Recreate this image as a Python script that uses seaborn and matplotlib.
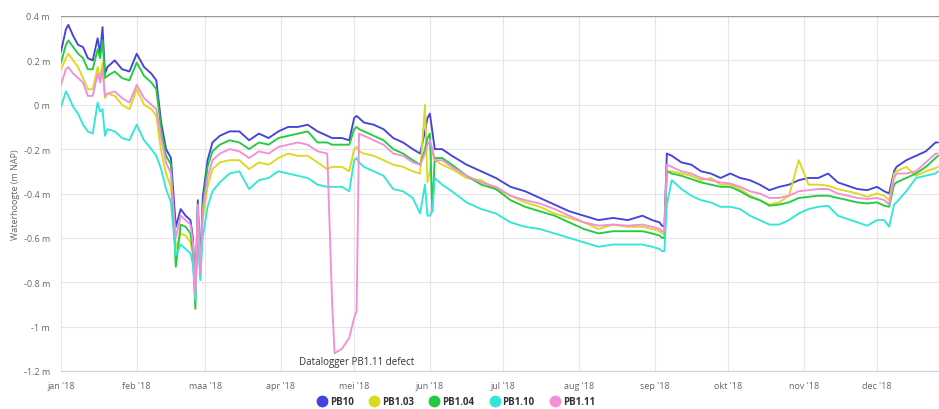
import pandas as pd
import matplotlib
matplotlib.use("Agg")
import matplotlib.pyplot as plt
from matplotlib.lines import Line2D
import seaborn as sns

# day offsets from 1 jan 2018
days = [0, 2, 3, 5, 7, 9, 11, 13, 15, 16, 17, 18, 19, 22, 25, 28, 31, 34, 37, 39,
        41, 43, 45, 47, 49, 51, 53, 54, 55, 56, 57, 58, 60, 62, 65, 69, 73, 77, 81, 85,
        89, 93, 97, 101, 105, 109, 111, 112, 115, 118, 120, 121, 122, 124, 128, 132, 136, 140, 144, 147,
        149, 150, 151, 152, 153, 156, 160, 166, 172, 178, 184, 190, 196, 202, 208, 214, 220, 226, 232, 238,
        242, 245, 246, 247, 248, 250, 254, 258, 262, 266, 270, 274, 278, 282, 286, 290, 294, 298, 302, 306,
        310, 314, 318, 322, 326, 330, 334, 337, 339, 341, 342, 346, 350, 354, 358, 359]

pb10 = [0.24, 0.34, 0.36, 0.31, 0.27, 0.26, 0.21, 0.20, 0.30, 0.23, 0.35, 0.14, 0.17, 0.20, 0.16, 0.15, 0.23, 0.17, 0.14, 0.11,
        -0.08, -0.20, -0.24, -0.55, -0.47, -0.50, -0.52, -0.60, -0.85, -0.43, -0.74, -0.42, -0.25, -0.17, -0.14, -0.12, -0.12, -0.16, -0.13, -0.15,
        -0.12, -0.10, -0.10, -0.09, -0.12, -0.14, -0.15, -0.15, -0.15, -0.16, -0.06, -0.05, -0.06, -0.08, -0.09, -0.11, -0.15, -0.17, -0.20, -0.22,
        -0.12, -0.06, -0.04, -0.12, -0.20, -0.20, -0.23, -0.27, -0.30, -0.33, -0.37, -0.39, -0.42, -0.45, -0.48, -0.50, -0.52, -0.51, -0.52, -0.50,
        -0.52, -0.53, -0.545, -0.55, -0.22, -0.23, -0.26, -0.27, -0.30, -0.31, -0.33, -0.31, -0.33, -0.34, -0.36, -0.385, -0.37, -0.36, -0.34, -0.33,
        -0.33, -0.31, -0.35, -0.365, -0.38, -0.385, -0.37, -0.39, -0.40, -0.30, -0.28, -0.25, -0.23, -0.21, -0.17, -0.17]

pb103 = [0.16, 0.21, 0.23, 0.20, 0.17, 0.12, 0.07, 0.07, 0.17, 0.12, 0.19, 0.03, 0.05, 0.04, 0.00, -0.02, 0.07, 0.00, -0.02, -0.05,
         -0.21, -0.31, -0.37, -0.65, -0.58, -0.59, -0.62, -0.68, -0.86, -0.50, -0.78, -0.52, -0.37, -0.29, -0.26, -0.25, -0.25, -0.29, -0.26, -0.27,
         -0.24, -0.22, -0.23, -0.23, -0.26, -0.29, -0.28, -0.28, -0.28, -0.30, -0.20, -0.19, -0.21, -0.22, -0.23, -0.25, -0.27, -0.28, -0.30, -0.31,
         0.00, -0.35, -0.30, -0.20, -0.25, -0.27, -0.29, -0.33, -0.34, -0.38, -0.41, -0.44, -0.46, -0.49, -0.51, -0.53, -0.56, -0.54, -0.55, -0.55,
         -0.56, -0.57, -0.58, -0.58, -0.30, -0.30, -0.31, -0.32, -0.34, -0.33, -0.36, -0.36, -0.38, -0.41, -0.43, -0.45, -0.44, -0.41, -0.25, -0.36,
         -0.36, -0.365, -0.38, -0.39, -0.40, -0.415, -0.40, -0.41, -0.43, -0.31, -0.30, -0.28, -0.32, -0.30, -0.285, -0.28]

pb104 = [0.19, 0.27, 0.29, 0.26, 0.23, 0.21, 0.16, 0.16, 0.25, 0.21, 0.29, 0.12, 0.13, 0.15, 0.12, 0.11, 0.19, 0.13, 0.10, 0.07,
         -0.11, -0.23, -0.27, -0.73, -0.54, -0.55, -0.58, -0.66, -0.92, -0.47, -0.76, -0.46, -0.28, -0.21, -0.18, -0.16, -0.17, -0.20, -0.17, -0.18,
         -0.15, -0.14, -0.13, -0.12, -0.17, -0.17, -0.18, -0.18, -0.18, -0.18, -0.11, -0.10, -0.11, -0.12, -0.14, -0.16, -0.20, -0.22, -0.25, -0.27,
         -0.20, -0.15, -0.13, -0.48, -0.24, -0.24, -0.27, -0.32, -0.36, -0.38, -0.43, -0.46, -0.48, -0.50, -0.53, -0.56, -0.58, -0.57, -0.57, -0.57,
         -0.58, -0.59, -0.60, -0.60, -0.30, -0.31, -0.32, -0.335, -0.35, -0.36, -0.37, -0.37, -0.39, -0.415, -0.43, -0.455, -0.45, -0.44, -0.42, -0.415,
         -0.41, -0.41, -0.42, -0.43, -0.44, -0.445, -0.44, -0.455, -0.46, -0.36, -0.35, -0.33, -0.31, -0.28, -0.24, -0.23]

pb110 = [-0.01, 0.06, 0.04, -0.01, -0.04, -0.09, -0.12, -0.13, 0.01, -0.03, -0.02, -0.14, -0.11, -0.12, -0.15, -0.16, -0.09, -0.16, -0.20, -0.23,
         -0.29, -0.38, -0.44, -0.68, -0.63, -0.65, -0.67, -0.72, -0.88, -0.56, -0.79, -0.60, -0.46, -0.39, -0.35, -0.31, -0.30, -0.38, -0.34, -0.33,
         -0.30, -0.31, -0.32, -0.33, -0.36, -0.37, -0.37, -0.37, -0.37, -0.39, -0.25, -0.24, -0.26, -0.28, -0.30, -0.32, -0.38, -0.39, -0.42, -0.49,
         -0.36, -0.50, -0.50, -0.48, -0.33, -0.36, -0.39, -0.44, -0.47, -0.49, -0.53, -0.55, -0.56, -0.58, -0.60, -0.62, -0.64, -0.63, -0.63, -0.63,
         -0.64, -0.65, -0.66, -0.66, -0.45, -0.34, -0.38, -0.41, -0.43, -0.44, -0.46, -0.46, -0.47, -0.50, -0.52, -0.54, -0.54, -0.52, -0.49, -0.47,
         -0.46, -0.455, -0.50, -0.515, -0.53, -0.545, -0.52, -0.52, -0.55, -0.45, -0.44, -0.39, -0.33, -0.32, -0.31, -0.30]

pb111 = [0.09, 0.16, 0.17, 0.14, 0.12, 0.10, 0.04, 0.04, 0.14, 0.10, 0.16, 0.04, 0.05, 0.06, 0.03, 0.01, 0.09, 0.03, 0.00, -0.02,
         -0.15, -0.26, -0.31, -0.60, -0.50, -0.52, -0.54, -0.62, -0.86, -0.45, -0.76, -0.48, -0.33, -0.25, -0.22, -0.20, -0.21, -0.24, -0.21, -0.22,
         -0.19, -0.18, -0.17, -0.18, -0.21, -0.22, -0.90, -1.12, -1.10, -1.05, -0.96, -0.93, -0.13, -0.14, -0.16, -0.18, -0.22, -0.23, -0.26, -0.27,
         -0.22, -0.18, -0.16, -0.20, -0.25, -0.25, -0.28, -0.32, -0.35, -0.37, -0.41, -0.43, -0.445, -0.47, -0.50, -0.53, -0.545, -0.54, -0.545, -0.54,
         -0.55, -0.56, -0.57, -0.57, -0.27, -0.28, -0.30, -0.31, -0.33, -0.34, -0.35, -0.355, -0.37, -0.39, -0.40, -0.42, -0.42, -0.41, -0.39, -0.385,
         -0.38, -0.38, -0.40, -0.41, -0.42, -0.425, -0.42, -0.43, -0.45, -0.33, -0.31, -0.31, -0.30, -0.26, -0.22, -0.22]

series_names = ["PB10", "PB1.03", "PB1.04", "PB1.10", "PB1.11"]
colors = ["#4343dd", "#dada1e", "#22cc3f", "#33e6d6", "#f38fd9"]
month_labels = ["jan '18", "feb '18", "maa '18", "apr '18", "mei '18", "jun '18",
                "jul '18", "aug '18", "sep '18", "okt '18", "nov '18", "dec '18"]
y_ticks = [0.4, 0.2, 0.0, -0.2, -0.4, -0.6, -0.8, -1.0, -1.2]
y_labels = ["0.4 m", "0.2 m", "0 m", "-0.2 m", "-0.4 m", "-0.6 m", "-0.8 m", "-1 m", "-1.2 m"]

start = pd.Timestamp("2018-01-01")
dates = start + pd.to_timedelta(days, unit="D")
wide = pd.DataFrame({"PB10": pb10, "PB1.03": pb103, "PB1.04": pb104,
                     "PB1.10": pb110, "PB1.11": pb111}, index=dates)
wide.index.name = "datum"
df = wide.reset_index().melt(id_vars="datum", var_name="peilbuis", value_name="hoogte")

sns.set_style("white")
plt.rcParams["font.family"] = ["Open Sans", "DejaVu Sans"]

fig = plt.figure(figsize=(9.39, 4.10), dpi=100)
ax = fig.add_axes([61 / 939, 1 - 372 / 410, 1 - 61 / 939, 355 / 410])

sns.lineplot(data=df, x="datum", y="hoogte", hue="peilbuis", hue_order=series_names,
             palette=colors, linewidth=1.35, legend=False, ax=ax, zorder=3)

ax.set_ylim(-1.2, 0.4)
ax.set_xlim(start, start + pd.Timedelta(days=359.4))

ax.set_yticks(y_ticks)
ax.set_yticklabels(y_labels)
month_pos = pd.date_range("2018-01-01", periods=12, freq="MS")
ax.set_xticks(month_pos)
ax.set_xticklabels(month_labels)

ax.grid(True, color="#e6e6e6", linewidth=0.8)
ax.set_axisbelow(True)
ax.axhline(0.4, color="#999999", linewidth=1.0, zorder=2)

for name in ["top", "right", "left"]:
    ax.spines[name].set_visible(False)
ax.spines["bottom"].set_color("#ccd6eb")
ax.spines["bottom"].set_linewidth(0.9)

ax.tick_params(axis="x", colors="#666666", labelsize=6.5, length=5, width=0.8,
               direction="out", pad=2)
ax.tick_params(axis="x", which="both", color="#ccd6eb")
ax.tick_params(axis="y", colors="#666666", labelsize=6.5, length=0, pad=8)

ax.set_xlabel("")
ax.set_ylabel("Waterhoogte (m NAP)", color="#666666", fontsize=6.5)
ax.yaxis.set_label_coords(-0.047, 0.5)

ax.text(start + pd.Timedelta(days=97.5), -1.155, "Datalogger PB1.11 defect",
        fontsize=7, color="#333333", ha="left", va="center", zorder=4)

handles = [Line2D([], [], marker="o", linestyle="", markersize=7.5,
                  markerfacecolor=c, markeredgecolor=c) for c in colors]
leg = fig.legend(handles, series_names, loc="center", bbox_to_anchor=(456 / 939, 1 - 403 / 410),
                 ncol=5, frameon=False, fontsize=7, handletextpad=0.3, columnspacing=1.6,
                 handlelength=1.0)
for t in leg.get_texts():
    t.set_color("#333333")
    t.set_fontweight("bold")

fig.savefig("out.png", dpi=100)
